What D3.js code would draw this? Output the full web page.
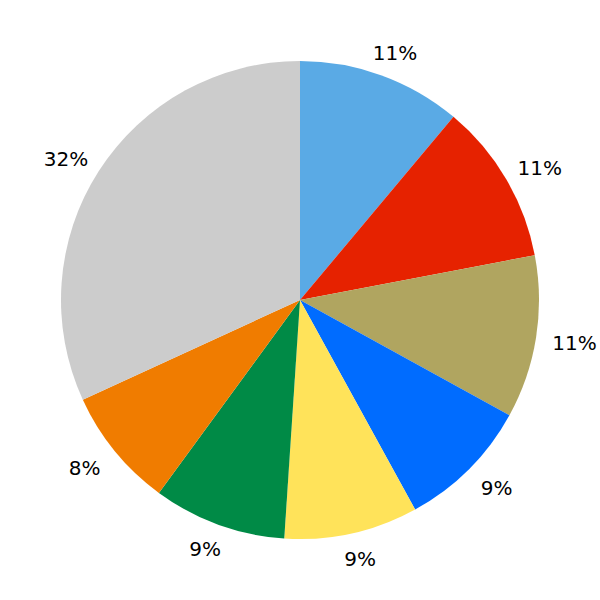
<!DOCTYPE html>
<html><head><meta charset="utf-8">
<script src="https://cdn.jsdelivr.net/npm/d3@7"></script>
<style>body{margin:0;background:#fff}</style>
</head><body>
<svg id="c" width="600" height="600"></svg>
<script>
const categories = ["A","B","C","D","E","F","G","H"];
const values = [11.1, 10.9, 11.0, 9.0, 9.05, 9.0, 8.1, 31.85];
const labels = ["11%","11%","11%","9%","9%","9%","8%","32%"];
const colors = ["#5aaae5","#e62200","#b0a560","#006cff","#ffe35a","#008a46","#f07c00","#cccccc"];

const svg = d3.select("#c");
const cx = 300, cy = 300, r = 239;
const fontSize = 20;
const g = svg.append("g").attr("transform", `translate(${cx},${cy})`);
const pie = d3.pie().sort(null).value(d => d)(values);
const arc = d3.arc().innerRadius(0).outerRadius(r);
g.selectAll("path").data(pie).join("path")
  .attr("d", arc).attr("fill", (d,i) => colors[i]);

// labels sit on a slightly wider-than-tall ring around the pie
const lx = r * 1.163, ly = r * 1.105;
const inkH = fontSize * 0.73;
g.selectAll("text").data(pie).join("text")
  .attr("text-anchor", "middle")
  .attr("font-family", "DejaVu Sans").attr("font-size", fontSize)
  .attr("fill", "#000")
  .attr("x", d => lx * Math.sin((d.startAngle + d.endAngle) / 2))
  .attr("y", d => -ly * Math.cos((d.startAngle + d.endAngle) / 2) + 1 + inkH / 2)
  .text((d,i) => labels[i]);
</script>
</body></html>
